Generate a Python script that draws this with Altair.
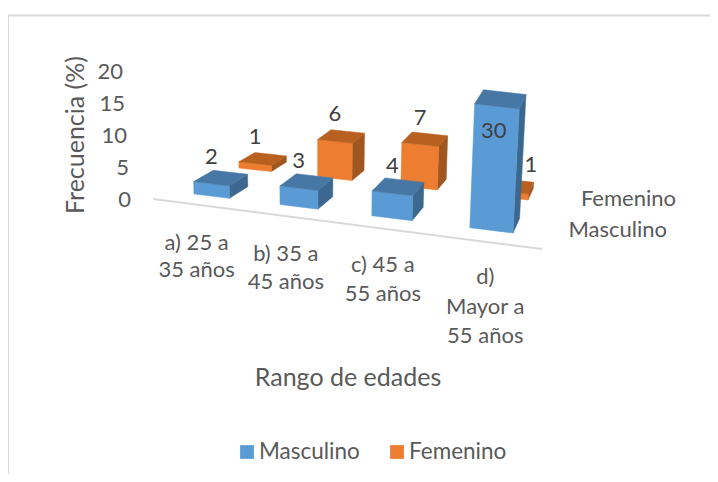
import numpy as np
import pandas as pd
import altair as alt

categories = [["a) 25 a", "35 años"], ["b) 35 a", "45 años"], ["c) 45 a", "55 años"], ["d)", "Mayor a", "55 años"]]
masculino = [2, 3, 4, 30]
femenino = [1, 6, 7, 1]
value_ticks = [0, 5, 10, 15, 20]
series_names = ["Masculino", "Femenino"]

W, H = 702, 466
FONT = "Lato"
AXIS_MAX = 20
PX_PER_UNIT = 6.2
BAR_W = 0.42
BAR_D = 0.41

# Perspective of the floor plane (category position u, series depth d) -> canvas
src = [(0, 0), (3 + BAR_W, 0), (0, 1), (3 + BAR_W, 1)]
dst = [(186, 186), (505, 225), (231, 160), (520, 192)]
A, b = [], []
for (u, d), (x, y) in zip(src, dst):
    A.append([u, d, 1, 0, 0, 0, -u * x, -d * x]); b.append(x)
    A.append([0, 0, 0, u, d, 1, -u * y, -d * y]); b.append(y)
h = np.linalg.solve(np.array(A, float), np.array(b, float))


def floor(u, d):
    w = h[6] * u + h[7] * d + 1
    return (h[0] * u + h[1] * d + h[2]) / w, (h[3] * u + h[4] * d + h[5]) / w


def pt(u, d, v):
    x, y = floor(u, d)
    hp = min(v, AXIS_MAX) * PX_PER_UNIT
    return x + (x - 312) * 0.00026 * hp, y - hp


BLUE = ("#5B9BD5", "#4677A5", "#3C678F")
ORANGE = ("#ED7D31", "#B8601F", "#A0561F")

rows = []
labels = []
pid = 0


def add_face(points, color):
    global pid
    for k, (x, y) in enumerate(points):
        rows.append({"poly": pid, "k": k, "x": x, "y": y, "c": color})
    pid += 1


for s, (vals, col) in reversed(list(enumerate([(masculino, BLUE), (femenino, ORANGE)]))):
    for i, v in enumerate(vals):
        u0, u1, d0, d1 = i, i + BAR_W, s, s + BAR_D
        add_face([pt(u1, d0, 0), pt(u1, d1, 0), pt(u1, d1, v), pt(u1, d0, v)], col[2])
        add_face([pt(u0, d0, 0), pt(u1, d0, 0), pt(u1, d0, v), pt(u0, d0, v)], col[0])
        add_face([pt(u0, d0, v), pt(u1, d0, v), pt(u1, d1, v), pt(u0, d1, v)], col[1])
        x, y = pt(i + BAR_W / 2, s, v)
        dx, dy = 0, -27
        if v > AXIS_MAX:
            dx, dy = -3, 25
        if s == 1 and i == 3:
            dx, dy = 22, -27
        labels.append({"x": x + dx, "y": y + dy, "t": str(v)})

polys = pd.DataFrame(rows)
xs = alt.X("x:Q", scale=alt.Scale(domain=[0, W], range=[0, W]), axis=None)
ys = alt.Y("y:Q", scale=alt.Scale(domain=[0, H], range=[0, H]), axis=None)

faces = alt.Chart(polys).mark_line(strokeWidth=0.5, interpolate="linear-closed").encode(
    x=xs, y=ys, detail="poly:N", order="k:Q",
    fill=alt.Fill("c:N", scale=None), stroke=alt.Stroke("c:N", scale=None),
)


def text_layer(df, size, color, **kw):
    return alt.Chart(df).mark_text(font=FONT, fontSize=size, color=color, baseline="middle", **kw).encode(
        x=xs, y=ys, text="t:N")


# floor line and frame
def seg(points, color, width):
    d = pd.DataFrame([{"x": x, "y": y, "k": k} for k, (x, y) in enumerate(points)])
    return alt.Chart(d).mark_line(color=color, strokeWidth=width).encode(x=xs, y=ys, order="k:Q")


axis_line = seg([(145, 191), (534, 241)], "#D9D9D9", 2)
frame = seg([(0, H), (0, 7.5), (W, 7.5)], "#D9D9D9", 2)

ticks = pd.DataFrame([{"x": 123 - v * 0.4, "y": 192 - 6.4 * v, "t": str(v)} for v in value_ticks])

cat_rows = []
for i, lines in enumerate(categories):
    x, y = floor(i + BAR_W / 2, 0)
    for k, line in enumerate(lines):
        cat_rows.append({"x": x - 15 + 3 * i - (1 if i == 1 else 0), "y": y + 47 + k * (27 + i * 0.8), "t": line})
cats = pd.DataFrame(cat_rows)

series = pd.DataFrame([{"x": 668, "y": 191, "t": "Femenino"}, {"x": 659, "y": 222, "t": "Masculino"}])
title = pd.DataFrame([{"x": 340, "y": 370, "t": "Rango de edades"}])
ytitle = pd.DataFrame([{"x": 68, "y": 127, "t": "Frecuencia (%)"}])
leg_text = pd.DataFrame([{"x": 251, "y": 444, "t": series_names[0]}, {"x": 401, "y": 444, "t": series_names[1]}])
leg_sq = pd.DataFrame([{"x": 239, "y": 444, "c": BLUE[0]}, {"x": 389, "y": 444, "c": ORANGE[0]}])

chart = alt.layer(
    frame,
    axis_line,
    faces,
    text_layer(pd.DataFrame(labels), 22, "#404040", align="center"),
    text_layer(ticks, 22, "#595959", align="right"),
    text_layer(cats, 22, "#595959", align="center"),
    text_layer(series, 22, "#595959", align="right"),
    text_layer(title, 25, "#595959", align="center"),
    text_layer(ytitle, 25, "#595959", align="center", angle=270),
    text_layer(leg_text, 22.5, "#595959", align="left"),
    alt.Chart(leg_sq).mark_square(size=190, opacity=1).encode(x=xs, y=ys, fill=alt.Fill("c:N", scale=None)),
).properties(width=W, height=H, padding=0, autosize=alt.AutoSizeParams(type="none")).configure_view(stroke=None)

chart.save("out.html", embed_options={"renderer": "svg", "actions": False})
